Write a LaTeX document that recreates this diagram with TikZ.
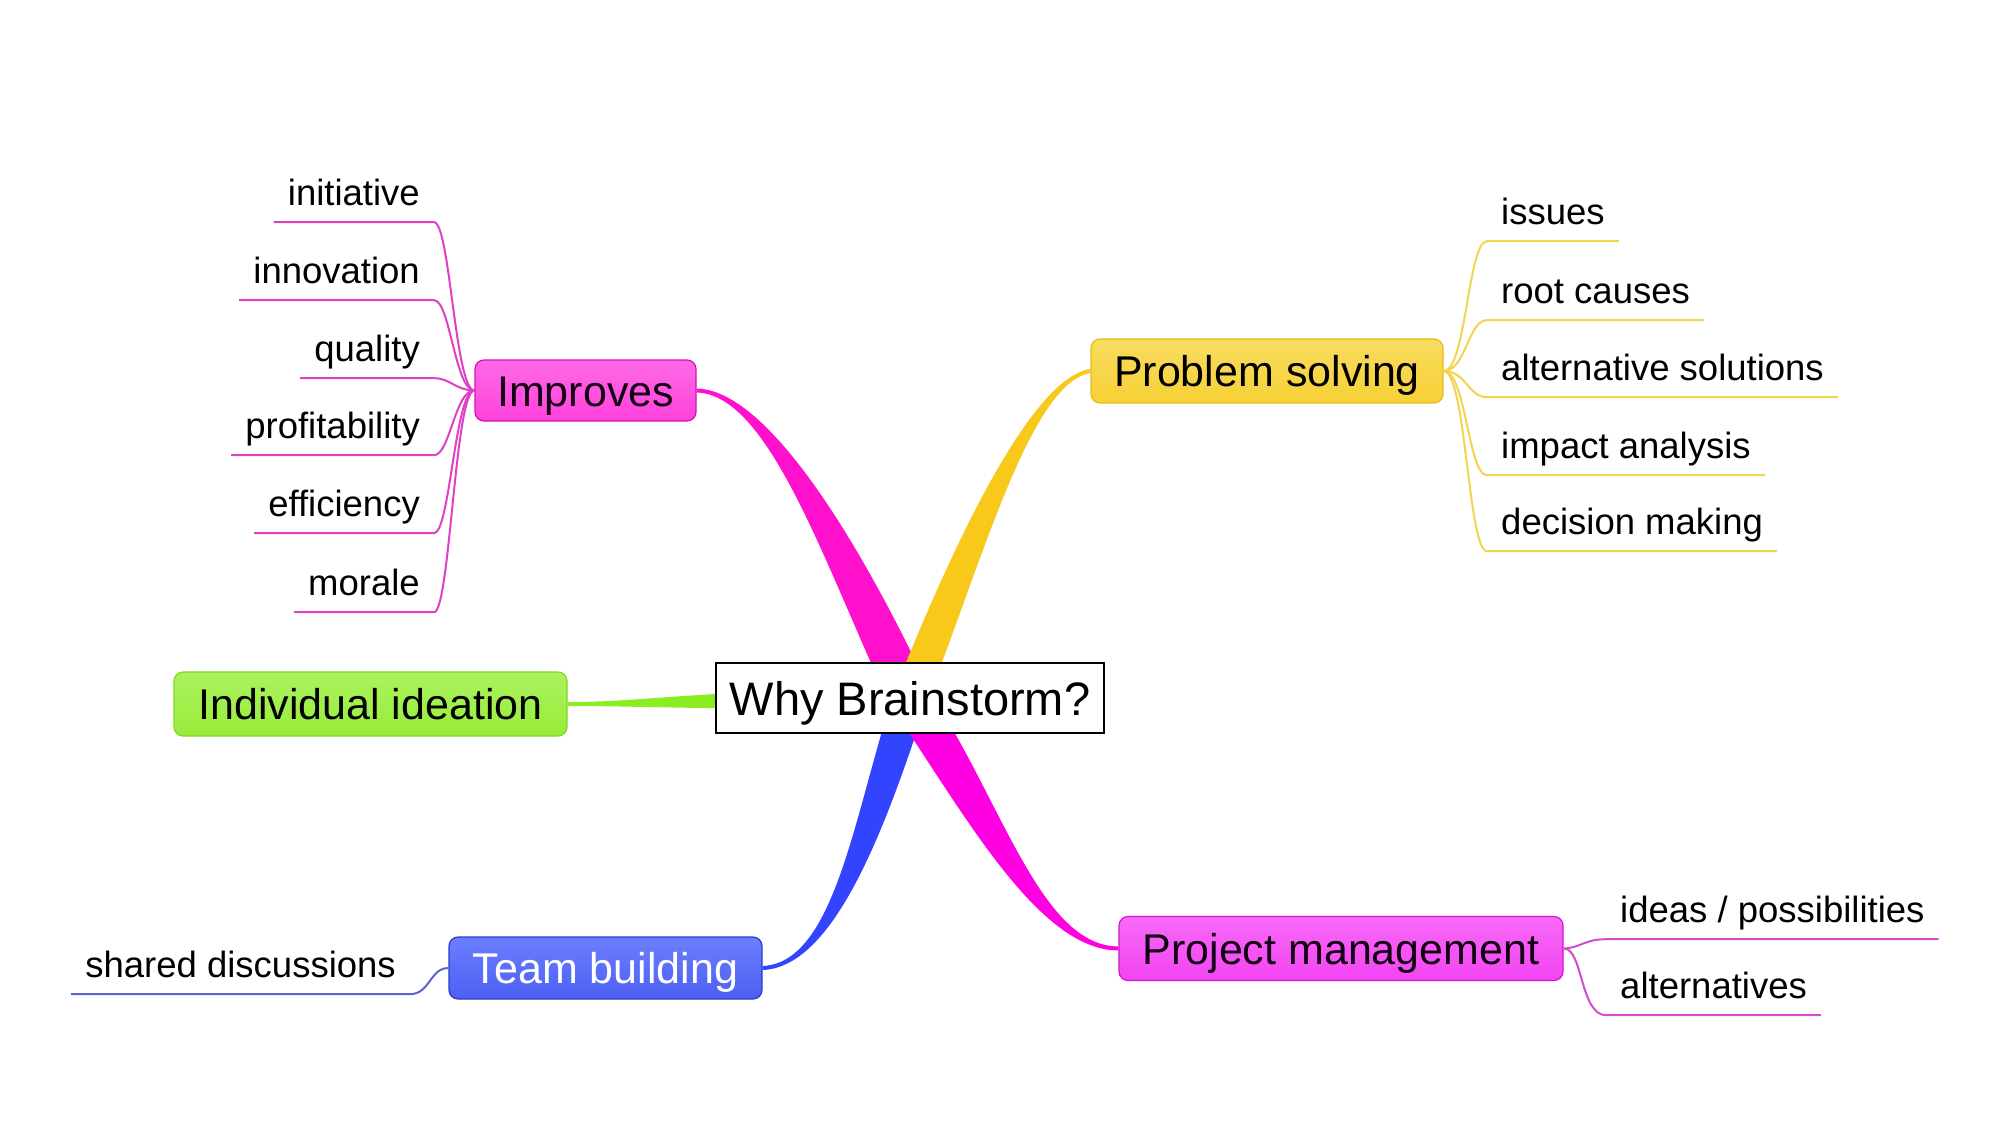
\documentclass[tikz,border=0pt]{standalone}
\usepackage{fontspec}
\setmainfont{Liberation Sans}
\usetikzlibrary{calc,backgrounds}
\definecolor{brMagA}{HTML}{FF10CC}
\definecolor{brMagB}{HTML}{FF00E2}
\definecolor{brYel}{HTML}{F8C81A}
\definecolor{brBlue}{HTML}{3344FF}
\definecolor{brGreen}{HTML}{8CEE22}
\definecolor{impTop}{HTML}{FF6AE6}
\definecolor{impMid}{HTML}{FF1ED6}
\definecolor{impBot}{HTML}{FF40DC}
\definecolor{impBd}{HTML}{D810B0}
\definecolor{psTop}{HTML}{F9DC60}
\definecolor{psMid}{HTML}{F5C81C}
\definecolor{psBot}{HTML}{F6D035}
\definecolor{psBd}{HTML}{E8BC18}
\definecolor{idTop}{HTML}{ABF35E}
\definecolor{idMid}{HTML}{8AE826}
\definecolor{idBot}{HTML}{98EC3A}
\definecolor{idBd}{HTML}{80D824}
\definecolor{tbTop}{HTML}{6C7EFF}
\definecolor{tbMid}{HTML}{3A4EEE}
\definecolor{tbBot}{HTML}{4C60F2}
\definecolor{tbBd}{HTML}{2A3CCC}
\definecolor{pmTop}{HTML}{F76AF7}
\definecolor{pmMid}{HTML}{EE20EE}
\definecolor{pmBot}{HTML}{F244F2}
\definecolor{pmBd}{HTML}{CC18CC}
\definecolor{impL}{HTML}{E040C4}
\definecolor{psL}{HTML}{F2D44E}
\definecolor{pmL}{HTML}{D24CD2}
\definecolor{tbL}{HTML}{5A64CC}
% tapered branch: start, ctrl1, ctrl2, end, half width at start, half width at end, colour
\newcommand{\taperbranch}[7]{%
  \fill[#7] let \p0=#1, \p1=#2, \p2=#3, \p3=#4,
    \n0={atan2(\y1-\y0,\x1-\x0)}, \n3={atan2(\y3-\y2,\x3-\x2)} in
    ($(\p0)+({\n0+90}:#5)$) .. controls ($(\p1)+({\n0+90}:#5)$) and ($(\p2)+({\n3+90}:#6)$) .. ($(\p3)+({\n3+90}:#6)$)
    -- ($(\p3)+({\n3-90}:#6)$) .. controls ($(\p2)+({\n3-90}:#6)$) and ($(\p1)+({\n0-90}:#5)$) .. ($(\p0)+({\n0-90}:#5)$) -- cycle;}
\begin{document}
\begin{tikzpicture}[x=1pt,y=-1pt,
  mainbox/.style={rounded corners=9pt, line width=1.2pt, inner sep=0pt,
    font=\fontsize{43}{50}\selectfont, text=black, text height=31pt, text depth=0pt},
  leaf/.style={font=\fontsize{36.5}{40}\selectfont, inner xsep=14pt, inner ysep=0pt,
    text height=27pt, text depth=17pt},
  impleaf/.style={draw=impL, line width=2pt},
  psleaf/.style={draw=psL, line width=2pt},
  pmleaf/.style={draw=pmL, line width=2pt},
  tbleaf/.style={draw=tbL, line width=2pt}]
\useasboundingbox (0,0) rectangle (2001,1125);

% central topic
\node[draw=black, line width=2pt, fill=white, inner sep=0pt, minimum width=388pt, minimum height=70pt,
  font=\fontsize{47}{54}\selectfont, text height=34pt, text depth=0pt] (c) at (910,698) {Why Brainstorm?};

% main topics
\node[mainbox, draw=impBd, top color=impTop, middle color=impMid, bottom color=impBot,
  minimum width=221pt, minimum height=61pt, text=black!85!violet] (imp) at (585.5,390.5) {Improves};
\node[mainbox, draw=psBd, top color=psTop, middle color=psMid, bottom color=psBot,
  minimum width=352pt, minimum height=64pt] (ps) at (1267,371) {Problem solving};
\node[mainbox, draw=idBd, top color=idTop, middle color=idMid, bottom color=idBot,
  minimum width=393pt, minimum height=64pt] (ind) at (370.5,704) {Individual ideation};
\node[mainbox, draw=tbBd, top color=tbTop, middle color=tbMid, bottom color=tbBot,
  minimum width=313pt, minimum height=62pt, text=white] (tb) at (605.5,968) {Team building};
\node[mainbox, draw=pmBd, top color=pmTop, middle color=pmMid, bottom color=pmBot,
  minimum width=444pt, minimum height=64pt, text=black!85!violet] (pm) at (1341,948.5) {Project management};

% branches
\begin{pgfonlayer}{background}
\fill[white] (0,0) rectangle (2001,1125);
\taperbranch{(c.center)}{(845,560)}{(770,392)}{(imp.east)}{21pt}{2pt}{brMagA}
\taperbranch{(c.center)}{(965,560)}{(1030,380)}{(ps.west)}{17pt}{2pt}{brYel}
\taperbranch{(c.center)}{(870,820)}{(835,965)}{(tb.east)}{17pt}{2pt}{brBlue}
\taperbranch{(c.center)}{(985,810)}{(1040,948)}{(pm.west)}{20pt}{2pt}{brMagB}
\taperbranch{(c.center)}{(690,700)}{(650,704)}{(ind.east)}{10pt}{2pt}{brGreen}
\end{pgfonlayer}

% Improves leaves
\foreach \t/\bl/\nm in {initiative/205/l1, innovation/283/l2, quality/361/l3,
    profitability/438/l4, efficiency/516/l5, morale/595/l6}{
  \node[leaf, anchor=base east] (\nm) at (434,\bl) {\t};
  \draw[impleaf] (imp.west) .. controls (455,390) and (450,{\bl+17}) .. (\nm.south east) -- (\nm.south west);
}

% Problem solving leaves
\foreach \t/\bl/\nm in {issues/224/r1, root causes/303/r2, alternative solutions/380/r3,
    impact analysis/458/r4, decision making/534/r5}{
  \node[leaf, anchor=base west] (\nm) at (1487,\bl) {\t};
  \draw[psleaf] (ps.east) .. controls (1466,371) and (1468,{\bl+17}) .. (\nm.south west) -- (\nm.south east);
}

% Project management leaves
\node[leaf, anchor=base west] (p1) at (1606,922) {ideas / possibilities};
\draw[pmleaf] (pm.east) .. controls (1580,948) and (1585,939) .. (p1.south west) -- (p1.south east);
\node[leaf, anchor=base west] (p2) at (1606,998) {alternatives};
\draw[pmleaf] (pm.east) .. controls (1583,948) and (1580,1015) .. (p2.south west) -- (p2.south east);

% Team building leaf
\node[leaf, anchor=base east] (t1) at (410,977) {shared discussions};
\draw[tbleaf] (tb.west) .. controls (430,968) and (430,994) .. (t1.south east) -- (t1.south west);
\end{tikzpicture}
\end{document}
